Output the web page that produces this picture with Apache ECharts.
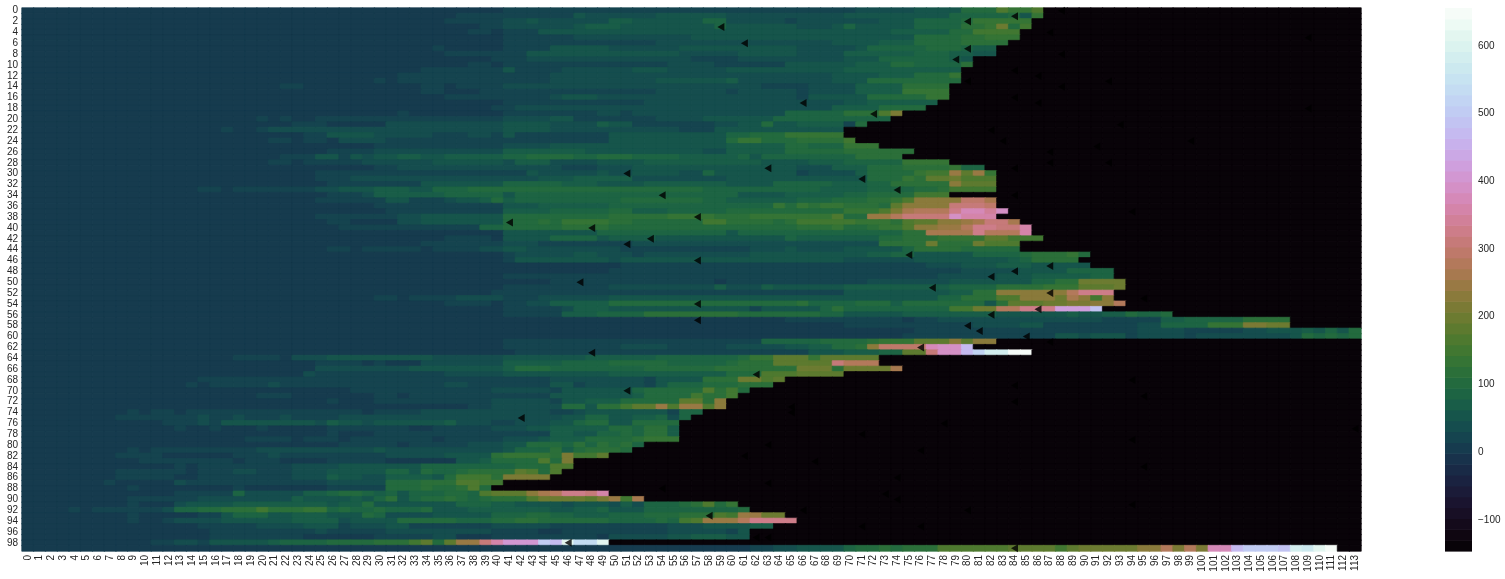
<!DOCTYPE html>
<html><head><meta charset="utf-8">
<style>html,body{margin:0;padding:0;background:#fff}#c{width:1505px;height:579px}</style>
<script src="https://cdn.jsdelivr.net/npm/echarts@6/dist/echarts.min.js"></script>
</head><body><div id="c"></div>
<script>
// Each row: [startCol, value, startCol, value, ...]; a value holds until the next startCol or the row's end.
const baseValue = 5, emptyValue = -143, colorMin = -146, colorMax = 656, bandCount = 50;
const rowEnds = [86,86,85,85,84,84,83,82,82,80,80,79,79,79,78,78,78,77,76,74,73,71,69,69,70,72,75,74,78,81,82,82,82,82,78,82,82,83,82,84,85,85,86,84,84,90,89,90,92,92,93,93,92,92,93,91,97,107,107,113,113,82,80,85,72,72,74,69,64,63,61,60,59,59,57,56,55,55,55,55,52,51,49,46,46,45,44,40,39,49,52,60,61,64,65,63,61,61,49,111];
const rows00to24 = [
[41,20,71,45,76,60,80,95,83,170,84,140,86,165],
[37,15,41,30,47,60,48,35,54,50,60,45,70,55,79,85,84,100,85,55,86,130],
[36,20,41,35,43,60,44,35,45,40,50,70,52,50,58,80,60,40,65,25,66,45,73,55,76,90,80,100,81,130,84,140],
[39,15,41,45,47,50,48,75,51,60,53,55,59,90,60,50,66,40,69,60,70,90,71,60,76,90,80,120,82,140,83,200,84,100,85,150],
[38,18,40,5,41,25,44,60,56,50,71,55,74,70,79,100,81,150],
[41,30,47,45,57,52,71,60,76,100,80,115,82,130],
[41,20,46,25,50,30,54,40,60,45,69,50,73,70,76,100,80,125],
[35,20,36,5,41,30,45,50,50,40,56,50,66,45,71,60,72,80,77,100,80,85,81,70],
[36,30,41,25,43,60,56,40,61,50,66,45,70,65,76,85,79,70,81,60],
[40,25,41,20,43,45,50,40,57,25,61,45,70,60,73,85,79,70,80,60],
[38,18,40,5,41,20,46,30,55,40,59,30,65,50,71,75,74,100,76,85,80,120],
[34,18,41,60,42,30,46,40,52,50,55,35,60,50,70,75,79,70],
[32,25,39,15,40,30,42,25,45,35,50,45,60,40,66,35,69,50,73,70,76,100,79,130],
[30,20,31,5,32,15,41,30,45,40,54,50,60,70,61,45,69,60,72,100],
[22,25,24,5,34,20,36,5,37,20,38,15,41,35,46,40,54,45,63,30,67,45,71,70,75,125],
[34,18,36,5,39,15,41,25,54,40,60,25,61,35,66,30,67,40,71,70,75,130,77,140],
[36,20,38,15,41,30,45,35,46,50,49,35,53,45,59,40,66,30,67,55,70,50,72,95,77,140],
[38,10,41,30,53,40,60,35,70,60,72,70],
[40,20,42,35,51,40,57,35,60,45,69,70,73,110],
[32,25,33,5,41,25,49,35,51,25,52,40,58,35,63,40,65,80,70,120,73,170,74,210],
[20,20,21,5,22,25,23,5,25,25,41,40,45,50,47,30,53,20,54,40,58,50,61,60,64,90,69,80],
[23,15,26,5,31,40,32,35,41,50,42,60,45,40,49,70,50,55,52,30,56,25,59,35,61,50,63,100,64,60,66,70,70,30,71,100],
[17,25,18,5,20,30,21,40,37,35,41,50,45,40,56,20,59,50,66,60],
[24,25,26,50,30,35,33,45,35,30,38,40,40,30,41,60,42,30,50,50,60,90,62,110,65,140],
[21,25,23,5,24,25,26,5,27,40,31,30,33,25,45,30,50,55,60,100,61,130,63,110,66,125,70,150]
];
const rows25to49 = [
[30,15,41,40,45,50,53,60,56,50,60,70,65,100,67,90,70,140],
[26,30,30,35,41,70,48,55,52,60,58,40,60,70,65,100,70,125],
[22,30,25,50,27,30,28,50,29,35,30,55,32,65,34,60,36,70,41,80,43,110,47,90,49,110,52,80,56,70,61,80,62,50,63,80,66,90,71,115],
[21,30,23,5,24,30,29,40,35,58,41,40,42,70,45,40,49,50,52,60,53,70,63,50,64,60,65,50,66,60,67,70,70,80,75,140],
[30,30,32,40,46,30,49,40,52,55,57,50,65,60,66,45,69,70,72,100,75,120,79,130,80,80],
[25,15,41,25,43,55,44,35,49,60,50,35,52,60,56,40,58,80,59,50,66,25,67,40,71,70,72,100,76,140,77,150,79,250,80,175,81,240,82,130],
[25,25,28,32,41,45,44,55,47,65,52,45,60,50,68,55,72,100,75,130,76,120,77,180,79,200,80,165],
[26,30,28,15,34,50,41,80,46,70,49,60,53,70,60,55,64,80,69,70,72,90,74,120,79,235,80,185],
[15,30,17,5,18,25,25,40,27,55,30,70,33,50,35,90,38,110,40,100,41,110,51,100,58,80,68,70,72,90,73,80,75,85,76,100,78,120,79,150],
[26,20,29,45,30,70,36,85,41,55,42,80,61,60,65,70,70,80,72,110,76,145],
[25,25,31,50,33,30,36,40,37,50,39,70,40,100,41,70,42,90,51,100,58,90,60,70,66,90,69,110,72,120,74,130,75,170,76,225,80,295,82,260],
[30,20,37,30,41,60,44,70,50,80,58,90,64,140,65,110,66,140,67,120,68,130,70,120,73,100,74,190,75,235,79,305,82,295],
[31,15,33,30,41,70,45,90,50,100,52,70,55,90,60,100,70,130,73,170,74,215,75,265,76,275,79,335,80,375,82,345,83,395],
[25,30,32,35,34,60,35,50,37,60,41,110,50,125,55,140,59,125,62,130,66,140,69,170,70,100,72,240,74,275,75,315,79,395,80,365],
[26,30,28,5,32,35,34,55,37,50,41,105,44,115,45,100,46,130,50,115,52,95,53,110,58,145,60,115,64,100,65,125,66,145,71,130,74,125,75,160,76,180,78,225,80,245,81,265,82,315,84,265],
[27,30,39,80,41,100,46,115,50,100,66,120,69,130,70,110,72,120,73,140,74,130,75,160,76,225,78,245,80,285,81,335,83,315,85,355],
[35,10,41,50,44,60,49,80,60,60,61,80,64,90,75,125,77,260,79,255,81,335,82,275,85,365],
[36,20,40,5,41,50,45,85,49,60,50,70,54,60,65,85,66,70,73,100,75,115,77,125,78,140,82,180,84,150],
[34,15,41,40,42,35,44,25,52,45,61,40,73,125,77,195,78,125,81,205,82,160],
[26,25,28,5,29,25,34,5,35,25,39,40,41,50,43,35,46,40,51,30,60,20,62,40,65,50,66,40,70,50,75,90,76,115,80,105,81,100],
[41,25,42,40,47,50,49,45,50,40,52,30,53,40,62,50,72,70,74,90,76,60,81,90,85,100,86,125,87,115,88,125,89,135,90,105],
[41,25,42,50,50,40,51,50,53,60,58,55,70,45,75,40,76,60,84,65,85,90,86,115],
[51,20,57,15,60,20,65,25,69,20,73,30,77,35,80,50,83,70,86,60],
[41,10,50,15,55,25,62,15,65,25,66,30,80,40,85,60,86,50,87,60,89,80,91,90],
[41,15,44,20,47,15,50,25,60,20,66,25,75,30,78,35,80,45,83,60,86,65,91,90]
];
const rows50to74 = [
[41,10,45,15,54,20,59,10,60,20,66,30,72,45,77,35,79,60,86,90,88,115,90,195],
[41,15,44,20,50,35,57,40,59,70,60,35,63,70,64,50,65,60,70,70,72,75,79,80,83,115,85,125,87,135,90,175,93,195],
[40,20,41,15,43,30,44,25,52,30,67,20,70,50,79,70,81,115,83,225,85,235,88,225,89,285,90,335],
[30,30,32,5,33,30,37,35,41,25,44,40,45,45,50,55,60,50,65,55,69,50,71,60,78,80,80,115,83,165,85,225,88,195,89,265,90,235,91,155,92,225],
[36,30,40,5,41,30,43,40,45,70,50,110,54,100,58,95,62,100,64,95,66,120,67,90,71,100,74,70,75,100,77,105,82,60,83,115,84,175,87,205,89,215,91,235,93,285],
[41,30,46,40,47,70,50,50,62,30,63,60,68,80,69,115,70,90,79,145,81,205,83,275,85,325,87,335,88,425,91,485],
[41,18,46,70,49,85,53,115,61,105,68,80,70,60,75,70,83,60,87,50,89,70,90,50,91,60,92,70,94,100,95,90,97,100],
[58,10,65,20,75,10,76,15,77,30,78,35,92,25,96,30,97,70,99,90,101,80,102,90,104,125],
[70,15,76,20,78,30,81,40,85,50,87,25,92,30,95,35,97,80,99,90,101,135,104,215,106,205],
[71,10,76,15,78,20,82,25,85,30,87,25,95,35,99,25,100,30,104,35,106,50,108,60,109,70,110,60,111,80,112,60,113,110],
[70,10,75,15,80,25,87,30,88,60,90,40,91,50,94,30,95,45,99,30,100,45,103,35,105,40,108,60,109,100,110,90,111,110,112,80,113,110],
[41,15,47,20,48,15,52,25,53,30,63,90,68,105,72,125,73,135,76,175,78,185,79,235,80,185,81,225],
[41,20,42,30,51,40,55,30,60,35,65,50,67,65,69,100,71,115,72,235,73,295,77,375,78,395,80,470],
[41,10,42,15,46,20,50,30,55,25,60,20,65,30,67,50,70,70,73,80,75,185,77,315,78,385,80,470,81,520,82,590,84,655],
[18,30,22,5,23,35,24,40,26,50,33,60,35,45,36,40,37,45,41,50,44,60,48,70,54,90,61,105,62,130,64,185,67,130,68,190],
[25,15,29,5,30,30,31,10,34,40,41,70,46,90,50,100,55,90,60,100,61,120,64,185,69,315,70,285],
[25,35,29,45,31,35,33,60,34,50,35,60,36,50,38,60,39,50,41,70,42,100,45,90,53,105,59,125,66,195,69,120,70,205,74,255],
[24,35,25,20,27,30,30,20,36,40,39,45,41,60,50,70,60,100,63,170,66,190],
[15,15,35,20,40,30,45,40,53,25,54,60,58,125,61,200,63,165,64,185],
[14,25,15,5,16,25,21,35,22,25,31,30,36,35,38,30,45,50,47,30,48,45,53,30,54,60,55,90,56,80,58,110,61,125],
[20,10,28,20,30,25,40,35,45,30,46,50,52,80,53,100,57,110,58,165,59,125,60,145,61,100],
[20,25,23,10,29,5,30,15,32,5,33,20,38,25,45,50,50,60,52,70,53,105,57,155,58,115,59,125,60,155],
[26,20,27,5,28,10,30,15,33,20,40,40,45,30,46,50,48,70,51,100,56,175,58,125,59,235],
[38,15,40,45,46,105,48,60,49,125,51,145,52,185,54,245,55,165,56,245,58,165,59,235],
[9,15,10,5,11,25,13,5,14,20,29,5,30,20,32,25,34,35,38,40,45,30,47,40,48,60,55,30,56,80]
];
const rows75to99 = [
[8,25,10,15,12,20,13,30,15,45,16,30,18,45,19,30,22,45,23,30,27,35,28,40,43,45,46,50,48,80,50,60,51,50,52,70,54,80,55,40,56,80],
[12,25,15,45,16,30,17,50,24,60,25,45,26,70,27,55,29,40,30,50,36,70,37,40,40,30,42,45,45,55,47,90,48,105,50,50,52,105],
[13,15,14,5,16,30,17,5,20,15,21,5,26,20,33,10,35,25,40,35,43,50,45,70,50,100,52,80,53,115,55,70],
[19,10,26,15,27,5,30,20,37,30,38,20,40,30,44,20,45,70,47,50,49,80,51,100,52,80,53,115,55,70],
[19,20,21,25,23,5,24,25,26,30,27,10,28,25,33,30,35,10,36,25,38,30,41,40,44,60,45,70,48,100,52,125,53,140],
[18,10,26,5,27,20,30,25,32,10,33,30,38,45,41,60,43,100,45,105,46,80,47,115,48,80,49,125,50,100,51,115,52,90],
[9,20,10,5,11,25,18,30,20,40,22,45,23,35,28,45,30,50,31,35,32,45,33,35,38,45,41,60,42,80,44,90,45,115,46,70,47,100,48,115,51,105],
[8,20,12,10,17,5,18,20,21,35,22,20,31,35,35,45,36,60,40,115,41,135,45,125,46,215,47,155,49,175],
[10,15,14,20,18,5,19,15,22,5,26,15,30,25,31,8,37,50,39,70,40,105,44,165,45,105,46,215],
[13,30,14,5,15,20,20,30,23,40,27,60,34,85,37,80,40,90,41,80,42,100,45,165],
[8,20,14,10,15,30,18,40,20,30,23,40,26,50,27,55,30,60,31,80,33,50,34,95,35,90,37,105,38,125,42,175,43,165,44,100,45,165],
[8,20,13,10,15,25,23,40,26,70,27,50,29,45,31,70,35,50,36,95,37,145,40,125,41,215],
[7,25,8,10,13,35,14,20,18,30,19,20,23,30,26,35,31,95,34,125,36,115,37,165,39,155],
[9,15,10,5,18,15,19,8,26,25,29,30,31,95,34,115,35,95,37,125,38,165,39,100],
[13,20,17,25,18,85,19,40,22,45,24,75,26,85,27,110,29,80,30,70,31,80,32,60,33,80,36,95,38,90,39,165,40,185,43,225,44,255,45,275,46,325,48,305,49,365],
[9,20,13,30,15,35,20,40,23,70,24,50,28,70,29,60,30,80,31,115,32,60,33,85,34,105,36,115,37,105,38,90,39,100,40,125,43,165,44,195,46,205,48,185,49,215,50,245,51,155,52,265],
[9,20,10,5,13,45,14,50,18,70,22,75,26,60,27,70,29,95,30,60,36,50,37,85,40,75,42,50,46,40,47,60,50,40,51,70,52,45,53,80,56,95,57,125,58,165,59,105,60,135],
[4,15,5,5,6,15,9,30,10,20,12,40,13,90,15,100,17,115,18,125,20,145,21,125,24,140,26,80,27,100,28,80,30,110,31,90,34,110,35,60,37,50,38,70,45,55,46,60,47,70,49,80,50,50,53,85,61,95],
[9,20,10,5,15,30,17,60,18,85,21,60,23,75,26,60,29,95,30,85,31,45,35,50,40,80,43,95,45,80,46,85,47,70,50,85,52,80,53,95,56,115,59,165,60,155,61,245,63,195],
[9,20,10,5,12,30,13,35,17,50,23,70,27,40,28,60,32,95,37,90,40,95,42,120,44,95,50,90,54,95,55,80,56,145,57,165,58,245,61,285,62,335],
[15,30,20,40,24,60,27,30,28,40,31,60,33,30,40,40,45,30,55,40,58,50,62,70],
[16,30,17,15,19,30,25,35,26,15,27,20,30,15,31,35,38,40,40,20,44,5,46,25,47,30,55,45,60,20,61,60],
[16,20,24,10,27,5,30,15,31,30,35,40,37,10,40,30,45,20,48,15,49,10,50,40,55,50,57,70,60,60],
[11,15,13,40,15,30,16,50,21,70,22,85,25,80,26,95,27,105,30,115,33,155,34,185,35,105,36,185,37,245,39,305,40,365,41,415,44,510,45,470,46,610,47,540,49,610],
[53,8,62,25,64,40,66,55,70,80,71,105,73,125,74,105,75,125,78,160,81,170,84,185,88,155,89,175,90,205,95,235,96,225,97,275,98,215,99,285,100,215,101,375,103,470,104,510,107,480,108,590,109,570,110,620,111,650]
];
const triangleCols = [84,80,59,61,80,79,66,72,51,63,71,74,54,57,41,48,51,53,75,57,87,84,82,47,77,87,57,86,82,57,80,81,85,76,48,62,51,42,58,46,84,
 88,87,109,88,84,86,92,80,88,84,86,109,93,82,83,99,91,87,92,87,84,84,94,95,87,94,95,113,94,95,94,84,84,65,65,78,71,63,76,61,67,74,63,54,73,74,66,80,71,76,63,62];
const triangleRows = [1,2,3,6,7,9,17,19,30,29,31,33,34,38,39,40,43,42,45,46,47,48,49,50,51,52,54,55,56,57,58,59,60,62,63,67,70,75,93,98,99,
 0,4,5,8,11,12,13,13,14,16,17,18,21,22,24,24,25,26,28,28,29,34,37,53,61,68,71,77,79,84,91,69,72,73,74,76,78,80,81,82,83,86,87,88,89,90,92,92,95,95,97,97];
const colorbarTicks = [-100,0,100,200,300,400,500,600];

const allRows = [...rows00to24, ...rows25to49, ...rows50to74, ...rows75to99];
const cols = Array.from({length:114},(_,i)=>String(i));
const rowNames = Array.from({length:100},(_,i)=>String(i));

// matplotlib "cubehelix" colour map, sampled into discrete bands
function helix(t){
  const a=t*(1-t)/2, p=2*Math.PI*(0.5/3-1.5*t), cs=Math.cos(p), sn=Math.sin(p);
  const ch=x=>Math.round(255*Math.min(1,Math.max(0,x)));
  return `rgb(${ch(t+a*(-0.14861*cs+1.78277*sn))},${ch(t+a*(-0.29227*cs-0.90649*sn))},${ch(t+a*1.97294*cs)})`;
}
const bandSize=(colorMax-colorMin)/bandCount;
const bandColors=Array.from({length:bandCount},(_,i)=>helix((i+1)/(bandCount+1)));
const colorOf=v=>bandColors[Math.max(0,Math.min(bandCount-1,Math.floor((v-colorMin)/bandSize)))];

const cells = [];
allRows.forEach((runs,r)=>{
  for(let c=0;c<114;c++){
    let v = c>rowEnds[r] ? emptyValue : baseValue;
    if(c<=rowEnds[r]) for(let k=0;k<runs.length;k+=2){ if(runs[k]<=c) v=runs[k+1]; }
    const col=colorOf(v);
    cells.push({value:[c,r,v],itemStyle:{color:col,borderColor:col,borderWidth:0.7}});
  }
});
const labelFont={fontFamily:'"Liberation Sans",Arial,sans-serif',fontSize:10,color:'#262626'};

const chart=echarts.init(document.getElementById('c'),null,{renderer:'canvas'});
chart.setOption({
  animation:false,
  backgroundColor:'#fff',
  grid:[{left:22,top:8,width:1339,height:543},{left:1445,top:8,width:27,height:543}],
  xAxis:[
    {type:'category',gridIndex:0,data:cols,position:'bottom',axisLine:{show:false},axisTick:{show:false},splitLine:{show:false},
     axisLabel:{...labelFont,interval:0,rotate:90,margin:4}},
    {type:'value',gridIndex:1,min:0,max:1,show:false}
  ],
  yAxis:[
    {type:'category',gridIndex:0,data:rowNames,inverse:true,axisLine:{show:false},axisTick:{show:false},splitLine:{show:false},
     axisLabel:{...labelFont,interval:1,margin:4}},
    {type:'value',gridIndex:1,min:colorMin,max:colorMax,position:'right',axisLine:{show:false},axisTick:{show:false},splitLine:{show:false},
     axisLabel:{...labelFont,margin:6,customValues:colorbarTicks,formatter:v=>String(v).replace('-','\u2212')}}
  ],
  series:[
    {type:'heatmap',xAxisIndex:0,yAxisIndex:0,data:cells,progressive:0,emphasis:{disabled:true}},
    {type:'scatter',xAxisIndex:0,yAxisIndex:0,symbol:'triangle',symbolRotate:90,symbolSize:[8,7],z:5,
     itemStyle:{color:'#000'},silent:true,data:triangleCols.map((c,i)=>[c,triangleRows[i]])},
    {type:'custom',xAxisIndex:1,yAxisIndex:1,silent:true,data:bandColors.map((b,i)=>[colorMin+i*bandSize,colorMin+(i+1)*bandSize]),
     encode:{x:[],y:[0,1]},
     renderItem:(p,api)=>{
       const a=api.coord([0,api.value(0)]), b=api.coord([1,api.value(1)]);
       return {type:'rect',shape:{x:a[0],y:b[1],width:b[0]-a[0],height:a[1]-b[1]+0.6},style:{fill:bandColors[p.dataIndex]}};
     }}
  ]
});
</script></body></html>
